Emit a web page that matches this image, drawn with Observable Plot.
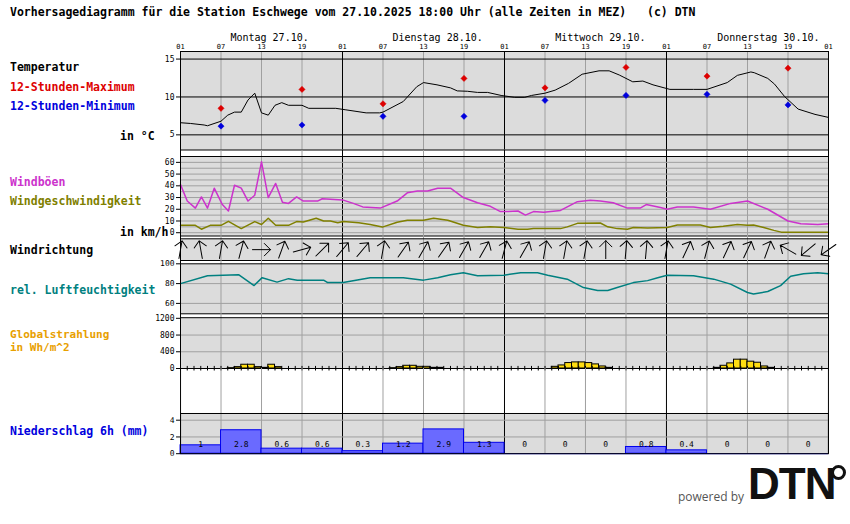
<!DOCTYPE html>
<html><head><meta charset="utf-8">
<script src="https://cdn.jsdelivr.net/npm/d3@7"></script>
<script src="https://cdn.jsdelivr.net/npm/@observablehq/plot@0.6"></script>
<style>
html,body{margin:0;padding:0;background:#fff;}
#root{position:relative;width:850px;height:524px;overflow:hidden;background:#fff;}
.t{position:absolute;font-family:"DejaVu Sans Mono",monospace;font-weight:bold;font-size:11.5px;line-height:12px;white-space:pre;}
</style></head><body><div id="root"></div><script>
// ---------- DATA (hours since Mo 27.10. 01:00) ----------
const tickHours = [0,6,12,18,24,30,36,42,48,54,60,66,72,78,84,90,96];
const tickLabels = ["01","07","13","19","01","07","13","19","01","07","13","19","01","07","13","19","01"];
const dayLabels = ["Montag 27.10.","Dienstag 28.10.","Mittwoch 29.10.","Donnerstag 30.10."];
const dayLabelHours = [7.4, 31.4, 55.5, 79.5];
const dayLines = [0,24,48,72,96];
const grayLines = [6,12,18,30,36,42,54,60,66,78,84,90];

const tempHours = [0,1.5,3.5,4,6,7,8,9,10,11,12,13,14,15,16,18,19,23,24.5,27.5,29.5,30,33,35,36,38,40,41,42.5,44,45.5,47.5,49.5,51,52,54,55.5,57.5,59.5,62,63.5,65,67,68.5,70,72.5,76,78,81,82.5,84.5,85,87,88,89.5,91.5,94,96];
const tempValues = [6.6,6.5,6.3,6.2,6.8,7.6,8.0,8.0,9.6,10.5,7.9,7.6,8.9,9.25,8.9,8.9,8.5,8.5,8.3,7.9,7.9,8.0,9.4,11.35,11.9,11.6,11.2,10.8,10.75,10.6,10.6,10.2,9.95,9.95,10.2,10.5,10.9,11.8,13.0,13.45,13.45,12.9,12.0,12.1,11.6,11.0,11.0,11.0,11.9,12.85,13.3,13.2,12.45,11.7,10.05,8.4,7.7,7.3];
const extremeHours = [6,18,30,42,54,66,78,90];
const maxValues = [8.5,11.0,9.1,12.45,11.2,13.9,12.75,13.8];
const minValues = [6.15,6.3,7.45,7.45,9.55,10.2,10.35,8.95];

const gustHours = [0,1,2.2,3.1,4,5,6.2,7.1,8,9,10,11,12,13,14.1,15.1,16,17.2,18.2,20.3,21,24,25.6,27,29.6,32.1,33.6,35.1,36.6,38.1,40,41.9,44,45.9,47.4,48.4,50,51.1,52.3,53.8,56.3,58.8,60.7,62.2,64.1,66.2,68.1,69,71.1,72.1,73.6,76,78.5,81.5,84,87,90,91.9,94.4,96];
const gustValues = [41,27,21,30.5,21,38,24,18.5,40.5,38,27,32,60.5,30,42,26,25,30.5,27,27,29,28,25,22,21,27,34,35.5,35.5,38,38,30,25.5,22.5,18,18,18.5,15,18,17.5,19,26.5,27.7,27,25.5,21,21,24,21.5,20,22,22,20,25,27,20,10,7.7,7,7.7];
const speedHours = [0,2.2,3.1,4.4,6,7.1,9,11,12,13,14.1,16,17.2,18.2,20.1,21.2,22.2,23.3,24.1,26.4,28.1,29.9,32.1,33.6,36,37.5,39.6,41.9,44,45.9,47.9,50,51.4,52.3,56.3,57.3,58.8,62.2,63.3,64.7,66.2,67.1,69.2,72.1,73.6,77,78.5,80.4,82.5,84,84.9,86.4,87.9,89,96];
const speedValues = [6.3,6.3,3,6.3,6.3,9.7,3.5,9.5,7,12.3,6.3,6.3,9.5,9.2,12.3,10,10,8.5,9.5,8.5,7,4.8,9,10.6,10.6,12.3,10.6,6.3,4.5,5,4.5,3,3,3.5,3.5,5,8,8.3,5,3.5,3,4.5,4,4.5,6.6,6.6,4.5,5.5,7,6.3,6.6,4.5,2,0.5,0.5];

const dirHours = [0,3,6,9,12,15,18,21,24,27,30,33,36,39,42,45,48,51,54,57,60,63,66,69,72,75,78,81,84,87,90,93,96];
const dirAngles = [10,-10,10,15,90,20,75,45,40,40,10,35,30,35,30,30,15,30,10,10,10,0,5,5,10,25,15,25,25,20,-60,230,235];

const humHours = [0,4,8.6,10.9,12.1,14.3,16,17.3,21.2,21.8,24.1,28.1,33,36,38.1,40,41.9,44,47.9,50.4,52.9,54.4,57.3,59.7,61.8,63.3,64.7,67.1,69.2,70.7,72.1,76,79,81.5,84,84.9,87,88.9,90.4,92.3,94.4,96];
const humValues = [80,88,89,78,86,81.5,85,83.5,83.5,81,81,86,86,83.5,86,89,91,88,88.5,91,91,88.5,84.5,76,73,73,76,81,83,86,88.5,88,84.5,79.5,71,69.5,72,78,87.5,90,91,90];

const radHours = [7,8,9,10,11,12,13,14, 31,32,33,34,35,36,37,38, 55,56,57,58,59,60,61,62,63, 79,80,81,82,83,84,85,86,87];
const radValues = [8,33,90,90,33,16,90,33, 8,33,65,65,40,40,16,16, 40,73,130,146,146,130,98,49,16, 16,65,122,211,211,163,138,49,16];

const precipHours = [0,6,12,18,24,30,36,42,48,54,60,66,72,78,84,90];
const precipValues = [1,2.8,0.6,0.6,0.3,1.2,2.9,1.3,0,0,0,0.8,0.4,0,0,0];

// ---------- LAYOUT ----------
const root = document.getElementById("root");
const FONT = '"DejaVu Sans Mono","Liberation Mono",monospace';
const BG = "#dcdcdc", GRID = "#a0a0a0";
const STYLE = `background:transparent;overflow:visible;font-family:${FONT};font-size:8px;color:black;`;

function panel(top, bottom, mt, mb, y, marks) {
  const p = Plot.plot({
    width: 850, height: bottom - top + mt + mb,
    marginLeft: 180, marginRight: 22, marginTop: mt, marginBottom: mb,
    x: {domain: [0, 96], axis: null},
    y, style: STYLE, marks
  });
  p.style.position = "absolute"; p.style.left = "0px"; p.style.top = (top - mt) + "px";
  root.appendChild(p);
}
function vgrid(ext) {
  return [
    Plot.frame({fill: BG, stroke: "none"}),
    Plot.ruleX(grayLines, {stroke: GRID, insetTop: -ext}),
    Plot.ruleX(dayLines, {stroke: "black", insetTop: -ext})
  ];
}
const yAxis = (ticks) => Plot.axisY(ticks, {tickSize: 4, tickPadding: 2, fontSize: 8, tickFormat: d => String(d)});

// Temperature
panel(51, 149.5, 51, 0, {domain: [3, 16]}, [
  ...vgrid(0),
  Plot.ruleY([5, 10, 15], {stroke: "black"}),
  Plot.line(tempHours, {x: tempHours, y: tempValues, stroke: "black", strokeWidth: 1}),
  Plot.dot(extremeHours, {x: extremeHours, y: maxValues, symbol: "diamond2", r: 2.8, fill: "#dd0000", stroke: "#dd0000", strokeWidth: 0.5}),
  Plot.dot(extremeHours, {x: extremeHours, y: minValues, symbol: "diamond2", r: 2.8, fill: "#0000dd", stroke: "#0000dd", strokeWidth: 0.5}),
  Plot.frame({stroke: "black"}),
  yAxis([5, 10, 15]),
  Plot.text(tickHours, {x: tickHours, text: tickLabels, frameAnchor: "top", dy: -7, fontSize: 7}),
  Plot.text(dayLabelHours, {x: dayLabelHours, text: dayLabels, frameAnchor: "top", dy: -18, textAnchor: "start", fontSize: 10})
]);

// Wind
panel(155.5, 235, 6, 0, {domain: [-2.8, 65]}, [
  ...vgrid(6),
  Plot.ruleY(d3.range(0, 61, 5), {stroke: GRID}),
  Plot.line(gustHours, {x: gustHours, y: gustValues, stroke: "#cc33cc"}),
  Plot.line(speedHours, {x: speedHours, y: speedValues, stroke: "#808000"}),
  Plot.frame({stroke: "black"}),
  yAxis(d3.range(0, 61, 10))
]);

// Wind direction
panel(238.3, 260, 3.3, 0, {axis: null}, [
  ...vgrid(3.3),
  Plot.vector(dirHours, {x: dirHours, rotate: dirAngles, length: 18, anchor: "middle", frameAnchor: "middle", r: 6, stroke: "black", strokeWidth: 1}),
  Plot.frame({stroke: "black"})
]);

// Humidity
panel(263.3, 313.3, 3.3, 0, {domain: [49.5, 100]}, [
  ...vgrid(3.3),
  Plot.ruleY([60, 80], {stroke: GRID}),
  Plot.line(humHours, {x: humHours, y: humValues, stroke: "#008080"}),
  Plot.frame({stroke: "black"}),
  yAxis([60, 80, 100])
]);

// Radiation
panel(317.5, 368.3, 4.2, 4, {domain: [0, 1215]}, [
  ...vgrid(4.2),
  Plot.ruleY([400, 800], {stroke: GRID}),
  Plot.rectY(radHours, {x1: radHours, x2: radHours.map(h => h + 1), y: radValues, fill: "#ffdd11", stroke: "black"}),
  Plot.frame({stroke: "black"}),
  yAxis([0, 400, 800, 1200]),
  Plot.ruleX(d3.range(0, 97), {y1: -60, y2: 50, stroke: "black"})
]);

// Precipitation
panel(413.3, 453.5, 46, 4, {domain: [0, 4.8]}, [
  ...vgrid(45.2),
  Plot.ruleY([2, 4], {stroke: GRID}),
  Plot.rectY(precipHours, {x1: precipHours, x2: precipHours.map(h => h + 6), y: precipValues, fill: "#6a6aff", stroke: "#0000ee"}),
  Plot.ruleY([0], {stroke: "#0000ee"}),
  Plot.text(precipHours, {x: precipHours.map(h => h + 3), text: precipValues.map(String), frameAnchor: "bottom", dy: -6.5, fontSize: 8}),
  Plot.frame({stroke: "black"}),
  yAxis([0, 2, 4])
]);

// ---------- TEXT ----------
function label(text, x, yc, color, extra) {
  const d = document.createElement("div");
  d.className = "t"; d.textContent = text;
  d.style.left = x + "px"; d.style.top = (yc - 6) + "px"; d.style.color = color;
  if (extra) Object.assign(d.style, extra);
  root.appendChild(d);
}
label("Vorhersagediagramm für die Station Eschwege vom 27.10.2025 18:00 Uhr (alle Zeiten in MEZ)   (c) DTN", 10, 12, "#000");
label("Temperatur", 10, 67, "#000");
label("12-Stunden-Maximum", 10, 87, "#dd0000");
label("12-Stunden-Minimum", 10, 106, "#0000dd");
label("in °C", 120, 136, "#000");
label("Windböen", 10, 182, "#cc33cc");
label("Windgeschwindigkeit", 10, 201, "#808000");
label("in km/h", 120, 232, "#000");
label("Windrichtung", 10, 250, "#000");
label("rel. Luftfeuchtigkeit", 10, 290, "#008080");
label("Globalstrahlung", 10, 334, "#e8a000", {fontSize: "11px", lineHeight: "11px", top: "328.5px"});
label("in Wh/m^2", 10, 347, "#e8a000", {fontSize: "11px", lineHeight: "11px", top: "341.5px"});
label("Niederschlag 6h (mm)", 10, 431, "#0000dd");
label("powered by", 678, 497, "#555", {fontFamily: "'Open Sans',sans-serif", fontWeight: "normal", fontSize: "12px"});
label("DTN", 748, 484, "#111", {fontFamily: "'Liberation Sans',sans-serif", fontWeight: "bold", fontSize: "44px", lineHeight: "44px", top: "462px", letterSpacing: "-1px"});
const ring = document.createElement("div");
Object.assign(ring.style, {position: "absolute", left: "831px", top: "465px", width: "9px", height: "9px", border: "3px solid #111", borderRadius: "50%"});
root.appendChild(ring);
</script></body></html>
